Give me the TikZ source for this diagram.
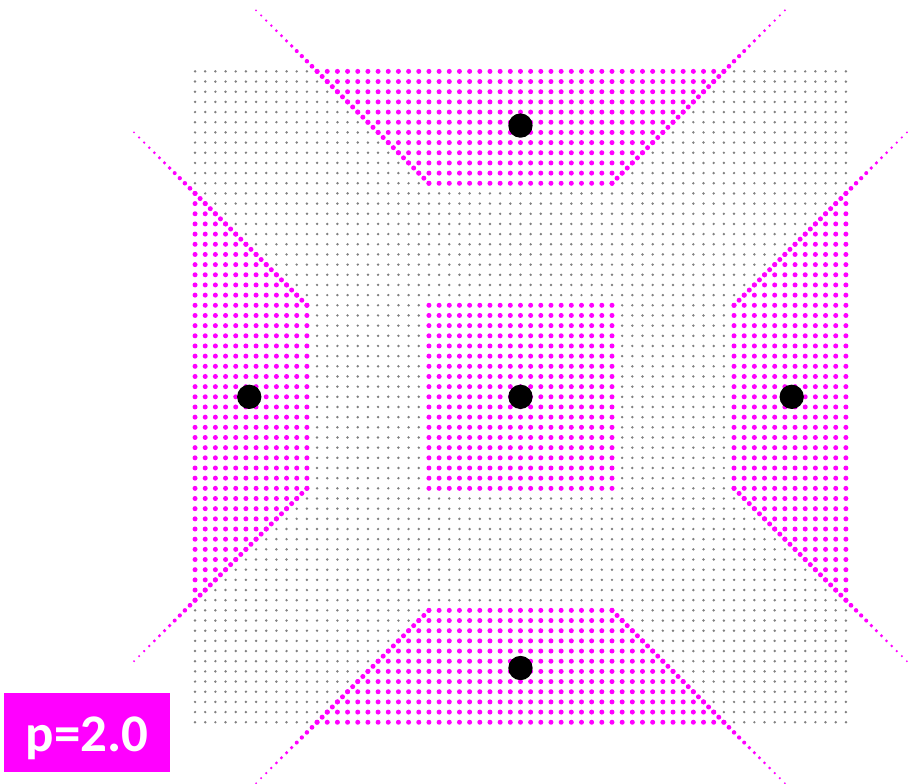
\documentclass[tikz,border=0pt]{standalone}
\usepackage{fontspec}
\newfontfamily\labelfont{Carlito}
\definecolor{dotgray}{RGB}{128,128,128}
\definecolor{cellmag}{RGB}{255,0,255}

\begin{document}
\begin{tikzpicture}[x=0.25cm, y=0.25cm,
    griddot/.style={fill=dotgray},
    celldot/.style={fill=cellmag},
    site/.style={circle, fill=black, minimum size=17pt, inner sep=0pt},
    tag/.style={rectangle, fill=cellmag, text=white, minimum width=4.08cm,
                minimum height=1.93cm, text height=27pt, text depth=0pt,
                font=\labelfont\bfseries\fontsize{37}{44}\selectfont}
  ]
    \useasboundingbox (-51.18,-38.07) rectangle (39.09,39.02);

    % Sample grid
    \foreach \i in {-32,...,32}{
      \foreach \j in {-32,...,32}{
        \pgfmathtruncatemacro{\inside}{or(and(abs(\i)<=9,abs(\j)<=9),
          or(and(abs(\j)>=21,abs(\j)>=abs(\i)+12),and(abs(\i)>=21,abs(\i)>=abs(\j)+12)))}
        \ifnum\inside=1
          \fill[celldot] (\i,\j) circle[radius=1.75pt];
        \else
          \fill[griddot] (\i,\j) circle[radius=0.95pt];
        \fi
      }
    }

    % Diagonal boundaries, fading past the grid
    \foreach \sx in {-1,1}{
      \foreach \sy in {-1,1}{
        \foreach \t in {0,0.5,...,17}{
          \pgfmathsetmacro{\r}{\t<=11 ? 1.75 : 1.75-(\t-11)*0.17}
          \fill[celldot] ({\sx*(9+\t)},{\sy*(21+\t)}) circle[radius=\r pt];
          \fill[celldot] ({\sx*(21+\t)},{\sy*(9+\t)}) circle[radius=\r pt];
        }
      }
    }

    % Sites
    \node[site] (c) at (0,0)      {};
    \node[site] (n) at (0,26.67)  {};
    \node[site] (s) at (0,-26.67) {};
    \node[site] (w) at (-26.67,0) {};
    \node[site] (e) at (26.67,0)  {};

    % Label
    \node[tag] (plabel) at (-42.63,-33.0) {p=2.0};
\end{tikzpicture}
\end{document}
